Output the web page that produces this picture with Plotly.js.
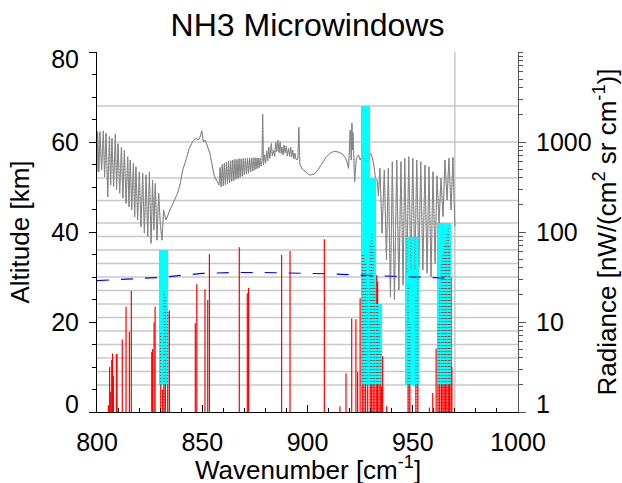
<!DOCTYPE html>
<html><head><meta charset="utf-8">
<script src="https://cdn.plot.ly/plotly-3.0.1.min.js"></script>
<style>html,body{margin:0;padding:0;background:#fff;}#chart{width:622px;height:483px;}</style>
</head><body><div id="chart"></div>
<script>
// Radiance spectrum (gray), right log axis
const specWn = [800.0,800.3,800.9,801.4,802.2,803.0,803.6,804.3,805.1,805.9,806.5,807.1,807.9,808.7,809.3,810.0,810.8,811.6,812.3,813.0,813.8,814.6,815.2,815.8,816.5,817.3,817.9,818.5,819.3,820.1,820.9,821.7,822.5,823.3,824.1,824.9,825.7,826.4,827.0,827.7,828.5,829.3,830.1,830.9,831.6,832.3,832.8,
834.7,836.7,838.3,839.4,840.7,842.3,843.8,845.4,847.0,848.2,849.0,849.8,850.5,851.4,852.5,853.6,854.5,855.6,856.7,858.0,
858.5,859.0,859.5,860.0,860.5,861.0,861.5,862.0,862.5,863.0,863.5,864.0,864.5,865.0,865.5,866.0,866.5,867.0,867.5,868.0,868.5,869.0,869.5,870.0,870.5,871.0,871.5,872.0,872.5,873.0,873.5,874.0,874.5,875.0,875.5,876.0,876.5,877.0,877.5,878.0,878.4,878.7,879.1,
879.6,880.1,880.6,881.1,881.6,882.1,882.8,883.3,883.9,884.4,884.9,885.4,885.9,886.5,887.0,887.5,887.8,888.4,888.9,889.4,889.9,890.4,891.0,891.5,892.0,892.5,893.0,893.5,894.0,894.5,895.4,895.9,896.4,
897.5,899.4,901.0,903.2,905.0,907.0,909.0,911.0,913.0,915.0,917.0,918.5,919.5,920.3,920.8,921.1,921.4,921.6,922.4,923.2,924.2,925.0,926.0,927.0,928.0,929.0,929.9,930.7,931.5,932.3,933.1,933.7,
934.4,935.4,936.5,937.5,938.4,939.4,940.3,941.3,942.4,943.4,944.4,945.4,946.2,947.2,948.1,949.1,950.0,951.0,951.9,952.9,953.8,954.8,955.8,956.8,957.7,958.7,959.6,960.6,961.5,962.5,963.4,964.4,965.3,966.3,967.2,968.2,969.1,970.0];
const specRad = [470,1300,465,1300,489,1330,410,1250,245,1145,333,1100,320,1230,293,960,270,880,237,815,208,685,191,631,176,580,148,530,136,465,114,450,97,430,89,465,75,378,105,347,81,270,120,81,176,150,136,
176,227,270,333,489,631,850,1008,1100,1052,1145,1330,1010,1052,880,754,580,430,378,333,
520,316,560,325,580,335,600,345,610,355,620,365,630,375,640,385,640,395,650,405,650,415,655,430,660,440,660,450,665,465,665,475,670,489,670,505,665,520,660,540,620,2046,560,
720,580,800,620,880,660,960,700,815,690,1000,780,1052,760,1008,750,880,720,925,760,900,700,850,690,880,680,815,650,754,640,640,1450,560,
500,465,430,440,489,580,688,760,790,770,720,631,510,1360,631,1620,815,1270,360,660,720,631,700,650,600,650,754,688,555,395,378,250,
510,97,489,49,510,19.1,604,17.6,631,22.7,604,25.7,659,34.8,688,37.8,659,37.8,631,41,604,37.8,555,34.8,530,31.9,468,44.9,420,125,395,148,631,227,659,176,676,115];

// Red line-significance spikes, altitude axis (km)
const lineWn = [805.4,806.0,806.5,807.0,807.4,807.8,809.2,809.5,812.0,813.8,815.4,816.3,826.0,826.4,827.1,827.6,830.3,831.2,831.8,832.5,833.6,834.4,846.7,847.4,851.3,852.6,853.4,867.6,871.4,872.0,887.7,891.7,908.0,915.4,918.3,921.0,923.0,923.8,925.0,926.0,926.8,927.6,928.6,929.8,930.5,931.2,932.0,932.9,933.3,934.0,934.8,935.2,935.7,937.6,947.8,948.6,951.5,952.4,957.9,959.5,961.1,962.0,962.8,963.6,964.3,964.9,965.5,966.2,966.9,967.5,968.2,968.6];
const lineAlt = [1.5,10.0,4.5,11.6,13.0,8.0,12.9,12.9,16.1,23.4,17.8,26.9,13.4,14.0,19.9,23.4,17.5,5,27,26,22.3,22.6,19.7,28.4,27.3,24.9,35.1,36.6,26.4,27.6,34.9,35.8,38.4,1.3,8.6,20.8,20.6,8.9,25.3,35,35,33,28,38,39.7,37,28,30.4,29,20,14,5.6,12.4,1.3,28.6,20,26,30,1.0,4.2,14.1,20,28,33,35,37.1,38,39.5,40.8,37,30,10];

// Microwindows (cyan boxes)
const mwStart  = [829.5, 925.4, 929.7, 932.5, 946.3, 961.4];
const mwEnd    = [833.9, 929.7, 932.5, 935.4, 953.0, 968.2];
const mwBottom = [6, 6, 6, 6, 6, 6];
const mwTop    = [36, 68, 52, 24, 39, 42];

// Blue dashed line (altitude)
const blueWn  = [800, 815, 830, 850, 865, 880, 895, 910, 925, 940, 955, 970];
const blueAlt = [29.2, 29.5, 29.9, 30.8, 31.0, 31.0, 30.9, 30.7, 30.4, 30.2, 29.9, 29.7];

// Tangent altitudes (gray horizontal lines) and wavenumber limit line
const tangentAlt = [6, 9, 12, 15, 18, 21, 24, 27, 30, 33, 36, 39, 42, 47, 52, 60, 68];
const limitWn = [970];

// Ticks
const xTickVals = [800, 850, 900, 950, 1000];
const altTickVals = [0, 20, 40, 60, 80];
const altTickText = ['0', '20', '40', '60', '80'];
const radTickVals = [1, 10, 100, 1000];
const radTickText = ['1', '10', '100', '1000'];
const radMinorVals = [2,3,4,5,6,7,8,9,20,30,40,50,60,70,80,90,200,300,400,500,600,700,800,900,2000,3000,4000,5000,6000,7000,8000,9000,10000];

const spikeX = [], spikeY = [], inX = [], inY = [];
lineWn.forEach((w, i) => {
  spikeX.push(w, w, null); spikeY.push(0, lineAlt[i], null);
  if (mwStart.some((s, k) => w >= s && w <= mwEnd[k])) { inX.push(w, w, null); inY.push(0, lineAlt[i], null); }
});

const traces = [
  {x: specWn, y: specRad, xaxis: 'x', yaxis: 'y', mode: 'lines', line: {color: '#808080', width: 1}, hoverinfo: 'skip'},
  {x: spikeX, y: spikeY, xaxis: 'x', yaxis: 'y2', mode: 'lines', line: {color: '#ff0000', width: 1.2}, hoverinfo: 'skip'},
  {type: 'bar', x: mwStart.map((s, i) => (s + mwEnd[i]) / 2), width: mwStart.map((s, i) => mwEnd[i] - s),
   base: mwBottom, y: mwTop.map((t, i) => t - mwBottom[i]), xaxis: 'x', yaxis: 'y3',
   marker: {color: '#00ffff', line: {width: 0}}, hoverinfo: 'skip'},
  {x: inX, y: inY, xaxis: 'x', yaxis: 'y3', mode: 'lines', line: {color: '#ff0000', width: 1, dash: '1px,2px'}, hoverinfo: 'skip'},
  {x: blueWn, y: blueAlt, xaxis: 'x', yaxis: 'y3', mode: 'lines', line: {color: '#0000ff', width: 1.2, dash: '12px,12px'}, hoverinfo: 'skip'},
  {x: specWn, y: specRad, xaxis: 'x', yaxis: 'y4', mode: 'lines', line: {color: '#8a8a8a', width: 1, dash: '1px,2px'}, hoverinfo: 'skip'},
  // empty traces so the label-only axes get drawn
  {x: [], y: [], xaxis: 'x', yaxis: 'y5', mode: 'lines', hoverinfo: 'skip'},
  {x: [], y: [], xaxis: 'x', yaxis: 'y6', mode: 'lines', hoverinfo: 'skip'},
  {x: [], y: [], xaxis: 'x', yaxis: 'y7', mode: 'lines', hoverinfo: 'skip'}
];

const shapes = tangentAlt.map(a => ({type: 'line', xref: 'paper', x0: 0, x1: 1, yref: 'y2', y0: a, y1: a,
  line: {color: '#c8c8c8', width: 1.5}, layer: 'below'}))
  .concat(limitWn.map(w => ({type: 'line', xref: 'x', x0: w, x1: w, yref: 'paper', y0: 0, y1: 1,
  line: {color: '#c8c8c8', width: 1.5}, layer: 'below'})));

const font = 'Liberation Sans, Arial, Helvetica, sans-serif';
const TF = 25, AF = 26;
const hidden = {ticks: '', showticklabels: false, showline: false, showgrid: false, zeroline: false};
const labelOnly = (extra) => Object.assign({ticks: 'outside', ticklen: 7, tickcolor: 'rgba(0,0,0,0)', showline: false,
  showticklabels: true, showgrid: false, zeroline: false, tickfont: {size: TF, color: 'black'}, ticklabelstandoff: 5, tickmode: 'array'}, extra);

const layout = {
  width: 622, height: 483,
  margin: {l: 97, r: 104, t: 52, b: 71, pad: 0},
  paper_bgcolor: 'white', plot_bgcolor: 'white', showlegend: false,
  font: {family: font, size: TF, color: 'black'},
  title: {text: 'NH3 Microwindows', font: {family: font, size: 32, color: 'black'}, x: 0.5, xanchor: 'center', xref: 'paper', y: 0.948, yanchor: 'middle', yref: 'container'},
  barmode: 'overlay', bargap: 0,
  xaxis: {range: [800, 1000], tickmode: 'array', tickvals: xTickVals, ticks: 'inside', ticklen: 7, tickwidth: 1, tickcolor: 'black',
    minor: {ticks: 'inside', tick0: 800, dtick: 10, ticklen: 4, tickcolor: 'black'},
    showline: true, linecolor: 'black', linewidth: 1, showgrid: false, zeroline: false,
    tickfont: {size: TF}, ticklabelstandoff: 8},
  xaxis2: {overlaying: 'x', anchor: 'y', side: 'bottom', range: [800, 1000], tickmode: 'array', tickvals: xTickVals,
    ticks: 'outside', ticklen: 6, tickcolor: 'black', showticklabels: false, showline: false, showgrid: false, zeroline: false},
  xaxis3: {overlaying: 'x', anchor: 'y', side: 'top', range: [800, 1000], tickmode: 'array', tickvals: xTickVals,
    ticks: 'outside', ticklen: 7, tickcolor: 'black', minor: {ticks: 'outside', tick0: 800, dtick: 10, ticklen: 4, tickcolor: 'black'},
    showticklabels: false, showline: true, linecolor: 'black', linewidth: 1, showgrid: false, zeroline: false},
  yaxis: {type: 'log', range: [0, 4], side: 'right', anchor: 'x', tickmode: 'array', tickvals: radTickVals,
    ticktext: radTickText.map((t, i) => i === 0 ? '' : t),
    ticks: 'outside', ticklen: 7, tickcolor: '#555555', ticklabelstandoff: 5,
    minor: {tickmode: 'array', tickvals: radMinorVals, ticks: 'outside', ticklen: 4, tickcolor: '#555555'},
    showline: true, linecolor: '#555555', linewidth: 1, showgrid: false, zeroline: false, tickfont: {size: TF},
    title: {text: 'Radiance [nW/(cm<sup>2</sup> sr cm<sup>-1</sup>)]', font: {size: AF}, standoff: 4}},
  yaxis2: {overlaying: 'y', side: 'left', anchor: 'x', range: [0, 80], tickmode: 'array', tickvals: altTickVals,
    ticktext: altTickText.map((t, i) => (i === 0 || i === altTickText.length - 1) ? '' : t),
    ticks: 'outside', ticklen: 7, tickcolor: 'black', ticklabelstandoff: 5,
    minor: {ticks: 'outside', tick0: 0, dtick: 5, ticklen: 4, tickcolor: 'black'},
    showline: true, linecolor: 'black', linewidth: 1, showgrid: false, zeroline: false, tickfont: {size: TF},
    title: {text: 'Altitude [km]', font: {size: AF}, standoff: 14}},
  yaxis3: Object.assign({overlaying: 'y', side: 'left', anchor: 'x', range: [0, 80]}, hidden),
  yaxis4: Object.assign({overlaying: 'y', side: 'right', anchor: 'x', type: 'log', range: [0, 4]}, hidden),
  yaxis5: labelOnly({overlaying: 'y', side: 'left', anchor: 'x', range: [0, 80], tickvals: [altTickVals[0]], ticktext: [altTickText[0]], ticklabelshift: -8}),
  yaxis6: labelOnly({overlaying: 'y', side: 'left', anchor: 'x', range: [0, 80], tickvals: [altTickVals[4]], ticktext: [altTickText[4]], ticklabelshift: 7}),
  yaxis7: labelOnly({overlaying: 'y', side: 'right', anchor: 'x', type: 'log', range: [0, 4], tickvals: [radTickVals[0]], ticktext: [radTickText[0]], ticklabelshift: -8}),
  annotations: [{text: 'Wavenumber [cm<sup>-1</sup>]', xref: 'paper', yref: 'paper', x: 0.5, y: -0.158, xanchor: 'center', yanchor: 'middle',
    showarrow: false, font: {family: font, size: AF, color: 'black'}}],
  shapes: shapes
};

Plotly.newPlot('chart', traces, layout, {staticPlot: true, displayModeBar: false});
</script></body></html>
